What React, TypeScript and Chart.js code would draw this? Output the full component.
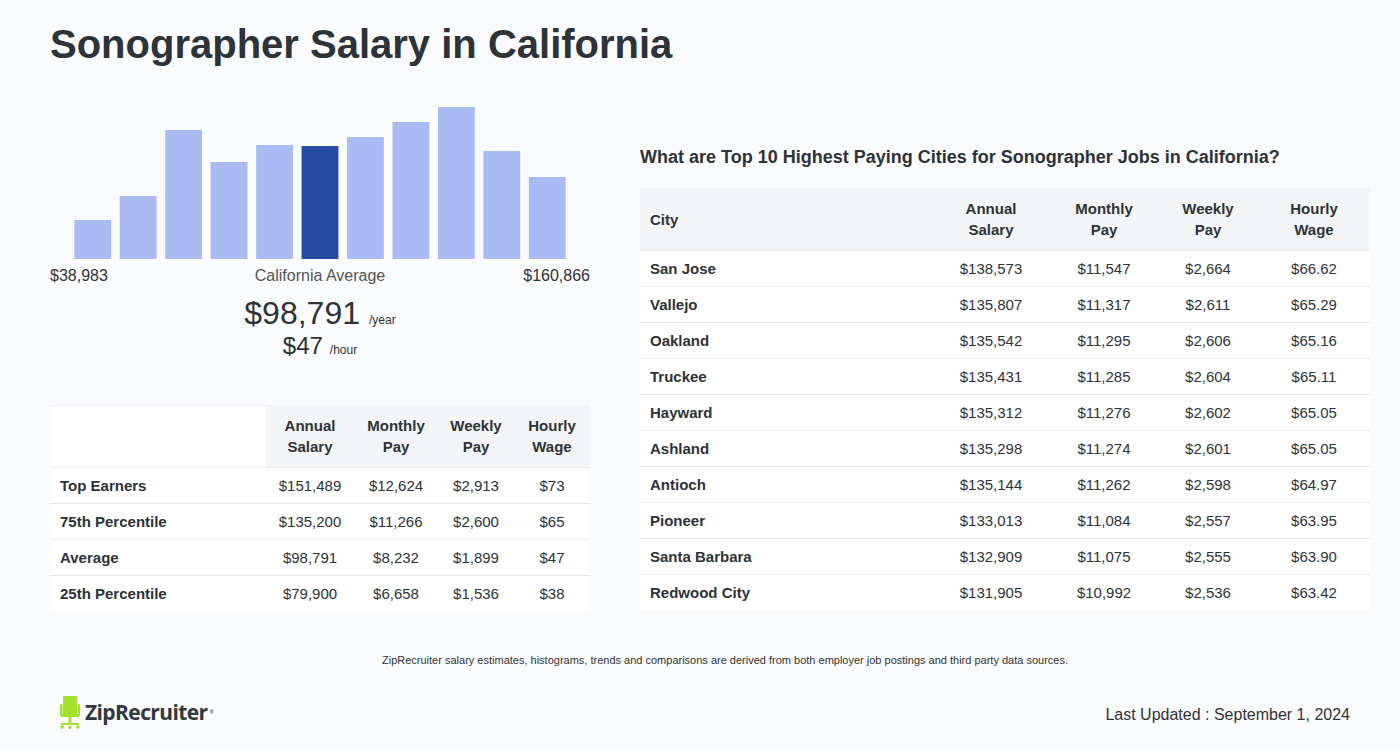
import React, { useEffect, useRef } from "react";
import { Chart, registerables } from "chart.js";

Chart.register(...registerables);

const binLabels = ["1", "2", "3", "4", "5", "6", "7", "8", "9", "10", "11"];
const binHeights = [39, 63, 129, 97, 114, 113, 122, 137, 152, 108, 82];
const highlightIndex = 5;
const minLabel = "$38,983";
const maxLabel = "$160,866";
const avgYear = "$98,791";
const avgHour = "$47";

const leftHeaders = [["Annual", "Salary"], ["Monthly", "Pay"], ["Weekly", "Pay"], ["Hourly", "Wage"]];
const leftRowNames = ["Top Earners", "75th Percentile", "Average", "25th Percentile"];
const leftAnnual = ["$151,489", "$135,200", "$98,791", "$79,900"];
const leftMonthly = ["$12,624", "$11,266", "$8,232", "$6,658"];
const leftWeekly = ["$2,913", "$2,600", "$1,899", "$1,536"];
const leftHourly = ["$73", "$65", "$47", "$38"];

const cities = ["San Jose", "Vallejo", "Oakland", "Truckee", "Hayward", "Ashland", "Antioch", "Pioneer", "Santa Barbara", "Redwood City"];
const cityAnnual = ["$138,573", "$135,807", "$135,542", "$135,431", "$135,312", "$135,298", "$135,144", "$133,013", "$132,909", "$131,905"];
const cityMonthly = ["$11,547", "$11,317", "$11,295", "$11,285", "$11,276", "$11,274", "$11,262", "$11,084", "$11,075", "$10,992"];
const cityWeekly = ["$2,664", "$2,611", "$2,606", "$2,604", "$2,602", "$2,601", "$2,598", "$2,557", "$2,555", "$2,536"];
const cityHourly = ["$66.62", "$65.29", "$65.16", "$65.11", "$65.05", "$65.05", "$64.97", "$63.95", "$63.90", "$63.42"];

const FONT = "'Liberation Sans', Arial, sans-serif";
const TXT = "#2d3338";

function Histogram() {
  const ref = useRef<HTMLCanvasElement>(null);
  useEffect(() => {
    if (!ref.current) return;
    const chart = new Chart(ref.current, {
      type: "bar",
      data: {
        labels: binLabels,
        datasets: [
          {
            data: binHeights,
            backgroundColor: binHeights.map((_, i) => (i === highlightIndex ? "#264aa3" : "#a9bbf2")),
            barPercentage: 0.81,
            categoryPercentage: 1,
          },
        ],
      },
      options: {
        animation: false,
        responsive: false,
        maintainAspectRatio: false,
        layout: { padding: { left: 20, right: 20, top: 0, bottom: 0 } },
        plugins: { legend: { display: false }, tooltip: { enabled: false } },
        scales: {
          x: { display: false },
          y: { display: false, min: 0, max: 160 },
        },
      },
    });
    return () => chart.destroy();
  }, []);
  return <canvas ref={ref} width={540} height={160} style={{ position: "absolute", left: 50, top: 99, width: 540, height: 160 }} />;
}

const abs = (s: React.CSSProperties): React.CSSProperties => ({ position: "absolute", ...s });

function LeftTable() {
  const colCenters = [310, 396, 476, 552];
  const colW = [88, 84, 76, 76];
  const cols = [leftAnnual, leftMonthly, leftWeekly, leftHourly];
  return (
    <div style={abs({ left: 50, top: 405, width: 540, height: 206, background: "#ffffff" })}>
      <div style={abs({ left: 0, top: 0, width: 540, height: 1, background: "#eceef1" })} />
      <div style={abs({ left: 216, top: 0, width: 324, height: 62, background: "#f4f5f7" })} />
      {leftHeaders.map((h, i) => (
        <div key={i} style={abs({ left: colCenters[i] - 50 - colW[i] / 2, top: 10, width: colW[i], textAlign: "center", fontWeight: "bold", fontSize: 15, lineHeight: "21px", color: TXT })}>
          {h[0]}
          <br />
          {h[1]}
        </div>
      ))}
      {leftRowNames.map((n, r) => (
        <React.Fragment key={n}>
          <div style={abs({ left: 0, top: 62 + r * 36, width: 540, height: 1, background: "#e8eaed" })} />
          <div style={abs({ left: 10, top: 63 + r * 36, height: 36, lineHeight: "36px", fontWeight: "bold", fontSize: 15, color: TXT })}>{n}</div>
          {cols.map((c, i) => (
            <div key={i} style={abs({ left: colCenters[i] - 50 - 50, top: 63 + r * 36, width: 100, height: 36, lineHeight: "36px", textAlign: "center", fontSize: 15, color: TXT })}>
              {c[r]}
            </div>
          ))}
        </React.Fragment>
      ))}
    </div>
  );
}

function RightTable() {
  const colCenters = [991, 1104, 1208, 1314];
  const cols = [cityAnnual, cityMonthly, cityWeekly, cityHourly];
  return (
    <div style={abs({ left: 640, top: 188, width: 730, height: 422, background: "#ffffff" })}>
      <div style={abs({ left: 0, top: 0, width: 730, height: 62, background: "#f4f5f7" })} />
      <div style={abs({ left: 10, top: 1, height: 62, lineHeight: "62px", fontWeight: "bold", fontSize: 15, color: TXT })}>City</div>
      {leftHeaders.map((h, i) => (
        <div key={i} style={abs({ left: colCenters[i] - 640 - 50, top: 10, width: 100, textAlign: "center", fontWeight: "bold", fontSize: 15, lineHeight: "21px", color: TXT })}>
          {h[0]}
          <br />
          {h[1]}
        </div>
      ))}
      {cities.map((n, r) => (
        <React.Fragment key={n}>
          <div style={abs({ left: 0, top: 62 + r * 36, width: 730, height: 1, background: "#e8eaed" })} />
          <div style={abs({ left: 10, top: 63 + r * 36, height: 36, lineHeight: "36px", fontWeight: "bold", fontSize: 15, color: TXT })}>{n}</div>
          {cols.map((c, i) => (
            <div key={i} style={abs({ left: colCenters[i] - 640 - 50, top: 63 + r * 36, width: 100, height: 36, lineHeight: "36px", textAlign: "center", fontSize: 15, color: TXT })}>
              {c[r]}
            </div>
          ))}
        </React.Fragment>
      ))}
    </div>
  );
}

function Logo() {
  const g = "#a6e02e";
  return (
    <div style={abs({ left: 59, top: 695, width: 200, height: 36 })}>
      <svg width="22" height="35" viewBox="0 0 22 35" style={{ position: "absolute", left: 0, top: 0 }}>
        <rect x="4" y="1" width="14" height="19" rx="1" fill={g} />
        <rect x="1" y="9" width="2.5" height="12" rx="1" fill={g} />
        <rect x="18.5" y="9" width="2.5" height="12" rx="1" fill={g} />
        <rect x="2" y="19" width="18" height="3" rx="1" fill={g} />
        <rect x="9.5" y="22" width="3" height="7" fill={g} />
        <rect x="2" y="28" width="18" height="2" fill={g} />
        <circle cx="3" cy="32" r="1.8" fill={g} />
        <circle cx="19" cy="32" r="1.8" fill={g} />
        <circle cx="11" cy="32.5" r="1.8" fill={g} />
      </svg>
      <div style={abs({ left: 26, top: 4, fontSize: 21, lineHeight: "26px", fontWeight: "bold", color: "#33383d", letterSpacing: -0.6, fontFamily: "'Open Sans', 'Liberation Sans', sans-serif", whiteSpace: "nowrap" })}>
        ZipRecruiter<span style={{ fontSize: 5, verticalAlign: "top", fontWeight: "normal", marginLeft: 2 }}>®</span>
      </div>
    </div>
  );
}

export default function App() {
  return (
    <div style={{ position: "fixed", left: 0, top: 0, width: 1400, height: 749, background: "#fafbfd", fontFamily: FONT, color: TXT, overflow: "hidden" }}>
      <div style={abs({ left: 50, top: 18, fontSize: 40, fontWeight: "bold", color: "#2d3338", lineHeight: "52px", whiteSpace: "nowrap" })}>
        Sonographer Salary in California
      </div>
      <Histogram />
      <div style={abs({ left: 50, top: 266, fontSize: 16, lineHeight: "20px", color: "#333" })}>{minLabel}</div>
      <div style={abs({ left: 220, top: 266, width: 200, textAlign: "center", fontSize: 16, lineHeight: "20px", color: "#555" })}>California Average</div>
      <div style={abs({ left: 390, top: 266, width: 200, textAlign: "right", fontSize: 16, lineHeight: "20px", color: "#333" })}>{maxLabel}</div>
      <div style={abs({ left: 120, top: 293, width: 400, textAlign: "center", whiteSpace: "nowrap" })}>
        <span style={{ fontSize: 32, lineHeight: "40px", color: "#2d3338" }}>{avgYear}</span>
        <span style={{ fontSize: 12, marginLeft: 9, color: "#333" }}>/year</span>
      </div>
      <div style={abs({ left: 120, top: 331, width: 400, textAlign: "center", whiteSpace: "nowrap" })}>
        <span style={{ fontSize: 24, lineHeight: "30px", color: "#2d3338" }}>{avgHour}</span>
        <span style={{ fontSize: 12, marginLeft: 7, color: "#333" }}>/hour</span>
      </div>
      <LeftTable />
      <div style={abs({ left: 640, top: 145, fontSize: 18, fontWeight: "bold", lineHeight: "24px", color: TXT, whiteSpace: "nowrap" })}>
        What are Top 10 Highest Paying Cities for Sonographer Jobs in California?
      </div>
      <RightTable />
      <div style={abs({ left: 0, top: 652, width: 1450, textAlign: "center", fontSize: 11, lineHeight: "16px", color: "#333" })}>
        ZipRecruiter salary estimates, histograms, trends and comparisons are derived from both employer job postings and third party data sources.
      </div>
      <Logo />
      <div style={abs({ left: 1000, top: 705, width: 350, textAlign: "right", fontSize: 16, lineHeight: "20px", color: "#333" })}>
        Last Updated : September 1, 2024
      </div>
    </div>
  );
}
